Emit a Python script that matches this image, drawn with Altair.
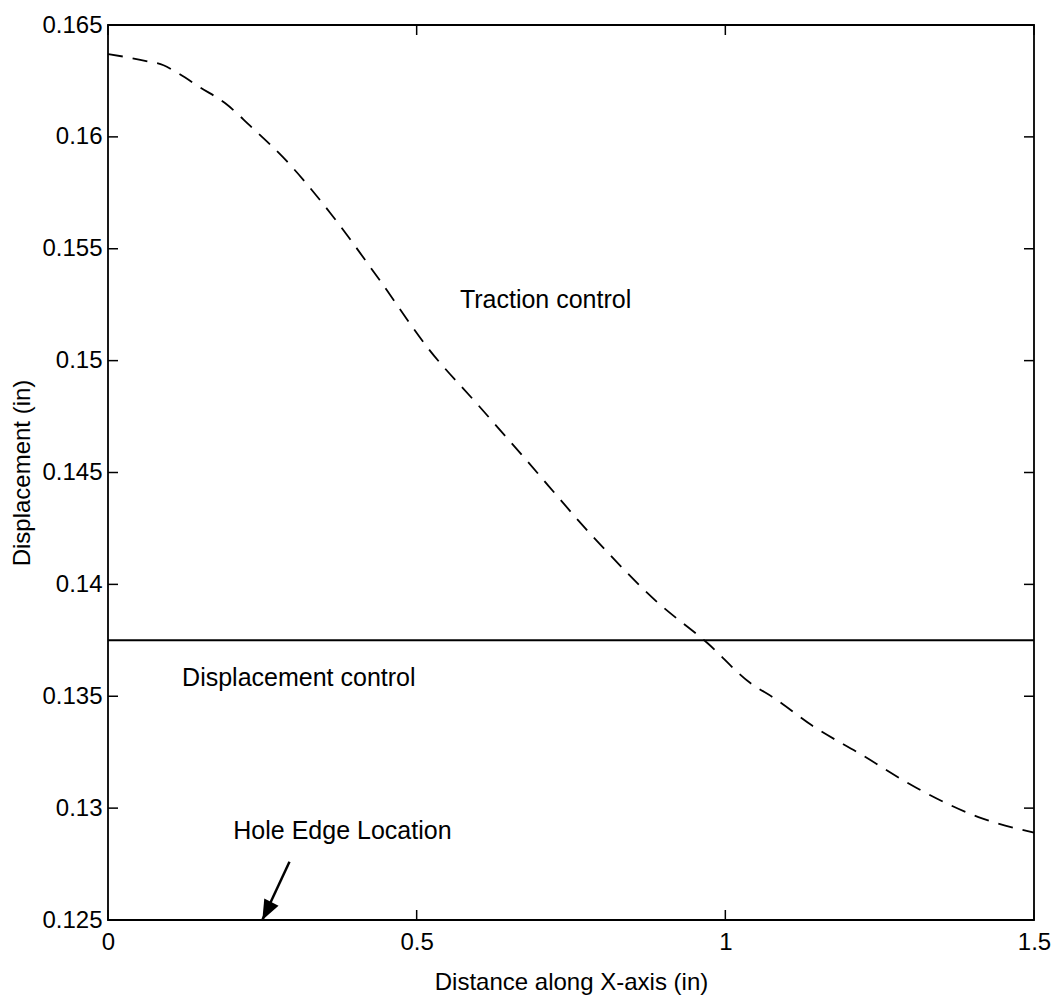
import altair as alt
import pandas as pd

# Dashed curve: traction control
curve_x = [0, 0.06, 0.09, 0.11, 0.15, 0.19, 0.23, 0.29, 0.36, 0.44, 0.52, 0.60,
           0.67, 0.79, 0.89, 0.97, 1.04, 1.08, 1.14, 1.22, 1.31, 1.41, 1.5]
curve_y = [0.1637, 0.1634, 0.1632, 0.1629, 0.1622, 0.1615, 0.1605, 0.1589, 0.1566,
           0.1536, 0.1505, 0.1480, 0.1458, 0.1420, 0.1392, 0.1374, 0.1356, 0.1349,
           0.1337, 0.1324, 0.1309, 0.1296, 0.1289]

# Solid line: displacement control
disp_x = [0.0, 1.5]
disp_y = [0.1375, 0.1375]

# Ticks
x_ticks = [0, 0.5, 1, 1.5]
y_ticks = [0.125, 0.13, 0.135, 0.14, 0.145, 0.15, 0.155, 0.16, 0.165]

# Annotations
ann_text = ["Traction control", "Displacement control", "Hole Edge Location"]
ann_x = [0.57, 0.12, 0.203]
ann_y = [0.1527, 0.1358, 0.1290]

# Arrow (tail -> tip)
arrow_x = [0.294]
arrow_y = [0.1276]
arrow_x2 = [0.25]
arrow_y2 = [0.125]

W, H = 926, 895
FONT = "Liberation Sans"

xs = alt.Scale(domain=[0, 1.5], nice=False, zero=False)
ys = alt.Scale(domain=[0.125, 0.165], nice=False, zero=False)

axis_style = dict(domain=False, ticks=False, tickSize=0, grid=False, labelFlush=False,
                  labelFont=FONT, labelFontSize=24, labelColor="black",
                  titleFont=FONT, titleFontSize=24, titleFontWeight="normal",
                  titleColor="black")
x_axis = alt.Axis(values=x_ticks, format="~g", title="Distance along X-axis (in)",
                  labelPadding=10, titlePadding=16, **axis_style)
y_axis = alt.Axis(values=y_ticks, format="~g", title="Displacement (in)",
                  labelPadding=6, titlePadding=7, **axis_style)


def X(field="x"):
    return alt.X(f"{field}:Q", scale=xs, axis=x_axis)


def Y(field="y"):
    return alt.Y(f"{field}:Q", scale=ys, axis=y_axis)


curve_df = pd.DataFrame({"x": curve_x, "y": curve_y})
disp_df = pd.DataFrame({"x": disp_x, "y": disp_y})
xt_df = pd.DataFrame({"x": x_ticks})
yt_df = pd.DataFrame({"y": y_ticks})
ann_df = pd.DataFrame({"x": ann_x, "y": ann_y, "t": ann_text})
arr_df = pd.DataFrame({"x": arrow_x, "y": arrow_y, "x2": arrow_x2, "y2": arrow_y2})

traction = alt.Chart(curve_df).mark_line(
    color="black", strokeWidth=1.8, strokeDash=[15, 10], interpolate="monotone"
).encode(x=X(), y=Y())

displacement = alt.Chart(disp_df).mark_line(color="black", strokeWidth=2).encode(x=X(), y=Y())

left_ticks = alt.Chart(yt_df).mark_rule(color="black", strokeWidth=1.5).encode(
    y=Y(), x=alt.value(0), x2=alt.value(10))
right_ticks = alt.Chart(yt_df).mark_rule(color="black", strokeWidth=1.5).encode(
    y=Y(), x=alt.value(W - 10), x2=alt.value(W))
top_ticks = alt.Chart(xt_df).mark_rule(color="black", strokeWidth=1.5).encode(
    x=X(), y=alt.value(0), y2=alt.value(10))
bottom_ticks = alt.Chart(xt_df).mark_rule(color="black", strokeWidth=1.5).encode(
    x=X(), y=alt.value(H - 10), y2=alt.value(H))

labels = alt.Chart(ann_df).mark_text(
    align="left", baseline="middle", font=FONT, fontSize=25, color="black"
).encode(x=X(), y=Y(), text="t:N")

arrow_line = alt.Chart(arr_df).mark_rule(color="black", strokeWidth=2.5).encode(
    x=X(), y=Y(), x2="x2:Q", y2="y2:Q")
arrow_head = alt.Chart(arr_df).mark_point(
    shape="M0,0L0.4,1L-0.4,1Z", filled=True, size=1600, angle=207,
    color="black", opacity=1
).encode(x=X("x2"), y=Y("y2"))

chart = alt.layer(
    displacement, traction, left_ticks, right_ticks, top_ticks, bottom_ticks,
    labels, arrow_line, arrow_head
).properties(
    width=W, height=H,
    background="white",
    autosize=alt.AutoSizeParams(type="none"),
    padding={"left": 100, "top": 17, "right": 18, "bottom": 78},
).configure_view(
    stroke="black", strokeWidth=1.8
).configure_axis(
    domain=False, ticks=False, tickSize=0, grid=False, labelFlush=False,
    labelFont=FONT, labelFontSize=24, labelColor="black",
    titleFont=FONT, titleFontSize=24, titleFontWeight="normal", titleColor="black",
)

chart.save("out.html", embed_options={"renderer": "svg", "actions": False})
